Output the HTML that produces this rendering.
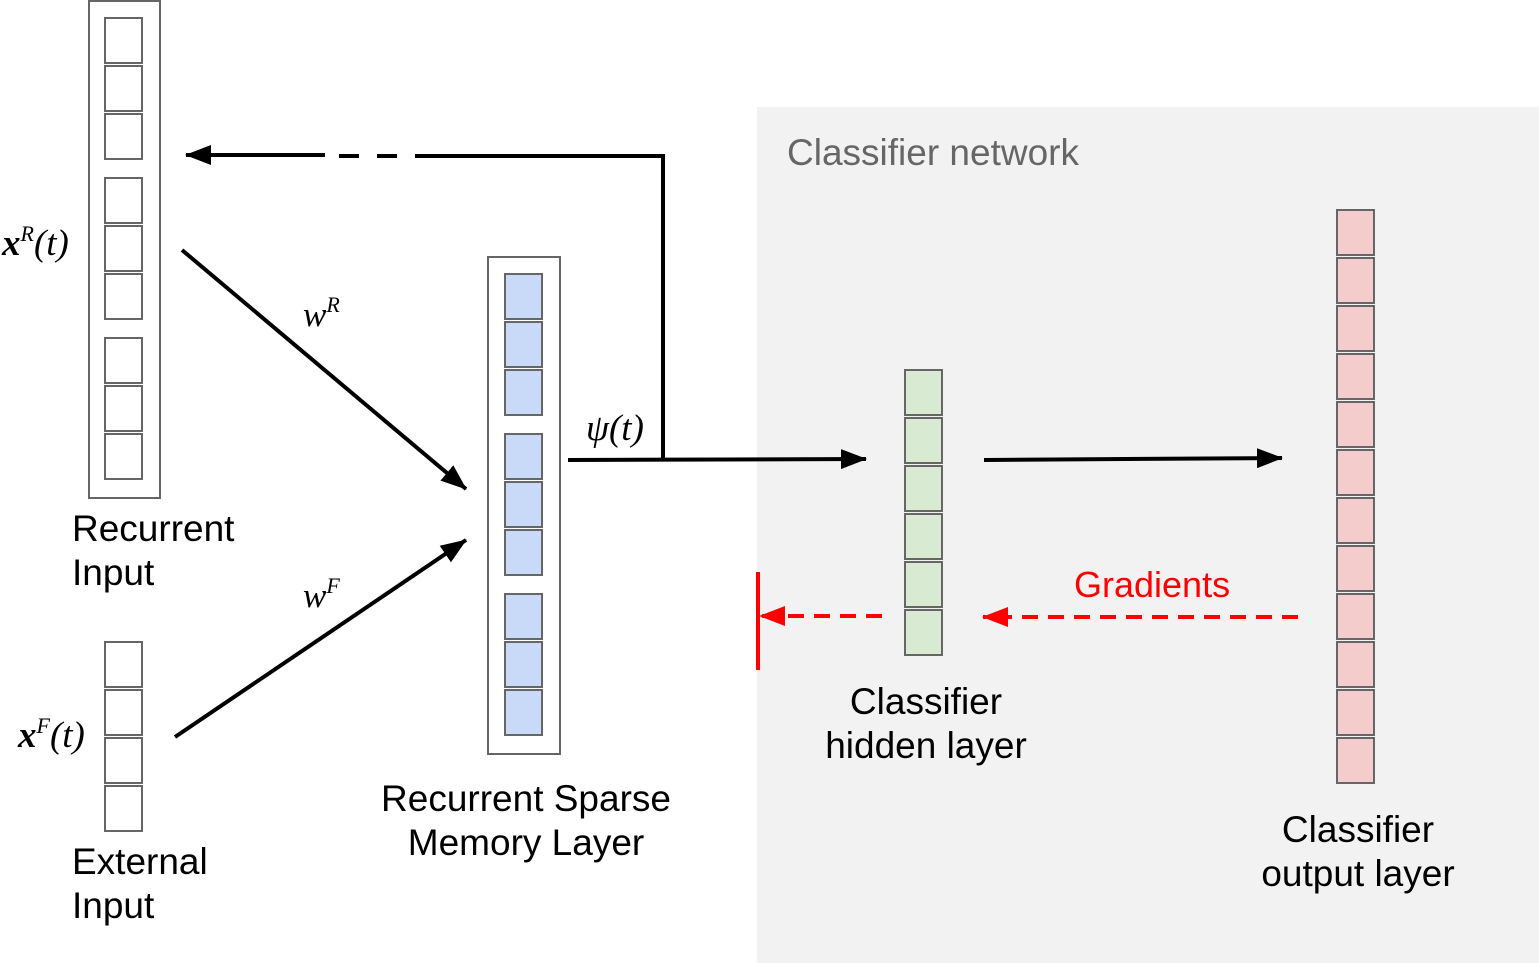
<!DOCTYPE html>
<html><head><meta charset="utf-8"><style>
html,body{margin:0;padding:0;background:#fff;}
svg{display:block;}
.t{font-family:"Liberation Sans",sans-serif;font-size:37px;fill:#000;}
.m{font-family:"Liberation Serif",serif;font-style:italic;fill:#000;}
</style></head><body>
<svg width="1539" height="963" viewBox="0 0 1539 963" xmlns="http://www.w3.org/2000/svg">
<defs>
<marker id="ab" markerWidth="26" markerHeight="20" refX="25" refY="10" orient="auto" markerUnits="userSpaceOnUse" viewBox="0 0 26 20"><path d="M0,0 L26,10 L0,20 z" fill="#000"/></marker>
<marker id="ar" markerWidth="26" markerHeight="20" refX="25" refY="10" orient="auto" markerUnits="userSpaceOnUse" viewBox="0 0 26 20"><path d="M0,0 L26,10 L0,20 z" fill="#f00"/></marker>
</defs>
<rect x="757" y="107" width="782" height="856" fill="#f2f2f2"/>
<text x="787" y="165" font-family="Liberation Sans,sans-serif" font-size="37" fill="#666">Classifier network</text>

<g fill="#fff" stroke="#666" stroke-width="2">
<rect x="89" y="1" width="71" height="497"/>
<rect x="105" y="18" width="37" height="45"/><rect x="105" y="66" width="37" height="45"/><rect x="105" y="114" width="37" height="45"/>
<rect x="105" y="178" width="37" height="45"/><rect x="105" y="226" width="37" height="45"/><rect x="105" y="274" width="37" height="45"/>
<rect x="105" y="338" width="37" height="45"/><rect x="105" y="386" width="37" height="45"/><rect x="105" y="434" width="37" height="45"/>
<rect x="105" y="642" width="37" height="45"/><rect x="105" y="690" width="37" height="45"/><rect x="105" y="738" width="37" height="45"/><rect x="105" y="786" width="37" height="45"/>
<rect x="488" y="257" width="72" height="497"/>
</g>
<g fill="#c9daf8" stroke="#666" stroke-width="2">
<rect x="505" y="274" width="37" height="45"/><rect x="505" y="322" width="37" height="45"/><rect x="505" y="370" width="37" height="45"/>
<rect x="505" y="434" width="37" height="45"/><rect x="505" y="482" width="37" height="45"/><rect x="505" y="530" width="37" height="45"/>
<rect x="505" y="594" width="37" height="45"/><rect x="505" y="642" width="37" height="45"/><rect x="505" y="690" width="37" height="45"/>
</g>
<g fill="#d9ead3" stroke="#666" stroke-width="2">
<rect x="905" y="370" width="37" height="45"/><rect x="905" y="418" width="37" height="45"/><rect x="905" y="466" width="37" height="45"/>
<rect x="905" y="514" width="37" height="45"/><rect x="905" y="562" width="37" height="45"/><rect x="905" y="610" width="37" height="45"/>
</g>
<g fill="#f4cccc" stroke="#666" stroke-width="2">
<rect x="1337" y="210" width="37" height="45"/><rect x="1337" y="258" width="37" height="45"/><rect x="1337" y="306" width="37" height="45"/>
<rect x="1337" y="354" width="37" height="45"/><rect x="1337" y="402" width="37" height="45"/><rect x="1337" y="450" width="37" height="45"/>
<rect x="1337" y="498" width="37" height="45"/><rect x="1337" y="546" width="37" height="45"/><rect x="1337" y="594" width="37" height="45"/>
<rect x="1337" y="642" width="37" height="45"/><rect x="1337" y="690" width="37" height="45"/><rect x="1337" y="738" width="37" height="45"/>
</g>

<g stroke="#000" stroke-width="4" fill="none">
<line x1="182" y1="250" x2="466" y2="489" marker-end="url(#ab)"/>
<line x1="175" y1="737" x2="466" y2="540" marker-end="url(#ab)"/>
<line x1="568" y1="460" x2="866" y2="459" marker-end="url(#ab)"/>
<polyline points="663,460 663,156 435,156"/>
<line x1="435" y1="156" x2="325" y2="156" stroke-dasharray="20,18"/>
<line x1="325" y1="155" x2="186" y2="155" marker-end="url(#ab)"/>
<line x1="984" y1="460" x2="1282" y2="458" marker-end="url(#ab)"/>
</g>
<g stroke="#f00" stroke-width="4" fill="none">
<line x1="1298" y1="617" x2="983" y2="617" stroke-dasharray="16,10" marker-end="url(#ar)"/>
<line x1="882" y1="616" x2="760" y2="616" stroke-dasharray="16,10" marker-end="url(#ar)"/>
<line x1="758" y1="572" x2="758" y2="670"/>
</g>
<text x="1074" y="597" font-family="Liberation Sans,sans-serif" font-size="36" fill="#f00">Gradients</text>

<text class="t" x="72" y="541">Recurrent</text><text class="t" x="72" y="585">Input</text>
<text class="t" x="72" y="874">External</text><text class="t" x="72" y="918">Input</text>
<text class="t" x="526" y="811" text-anchor="middle">Recurrent Sparse</text><text class="t" x="526" y="855" text-anchor="middle">Memory Layer</text>
<text class="t" x="926" y="714" text-anchor="middle">Classifier</text><text class="t" x="926" y="758" text-anchor="middle">hidden layer</text>
<text class="t" x="1358" y="842" text-anchor="middle">Classifier</text><text class="t" x="1358" y="886" text-anchor="middle">output layer</text>

<text class="m" x="2" y="255" font-size="37"><tspan font-weight="bold">x</tspan><tspan font-size="22" dy="-14">R</tspan><tspan dy="14">(t)</tspan></text>
<text class="m" x="18" y="747" font-size="37"><tspan font-weight="bold">x</tspan><tspan font-size="22" dy="-14">F</tspan><tspan dy="14">(t)</tspan></text>
<text class="m" x="303" y="326" font-size="35">w<tspan font-size="22" dy="-14">R</tspan></text>
<text class="m" x="303" y="607" font-size="35">w<tspan font-size="22" dy="-14">F</tspan></text>
<text class="m" x="586" y="440" font-size="37">ψ(t)</text>
</svg>
</body></html>
